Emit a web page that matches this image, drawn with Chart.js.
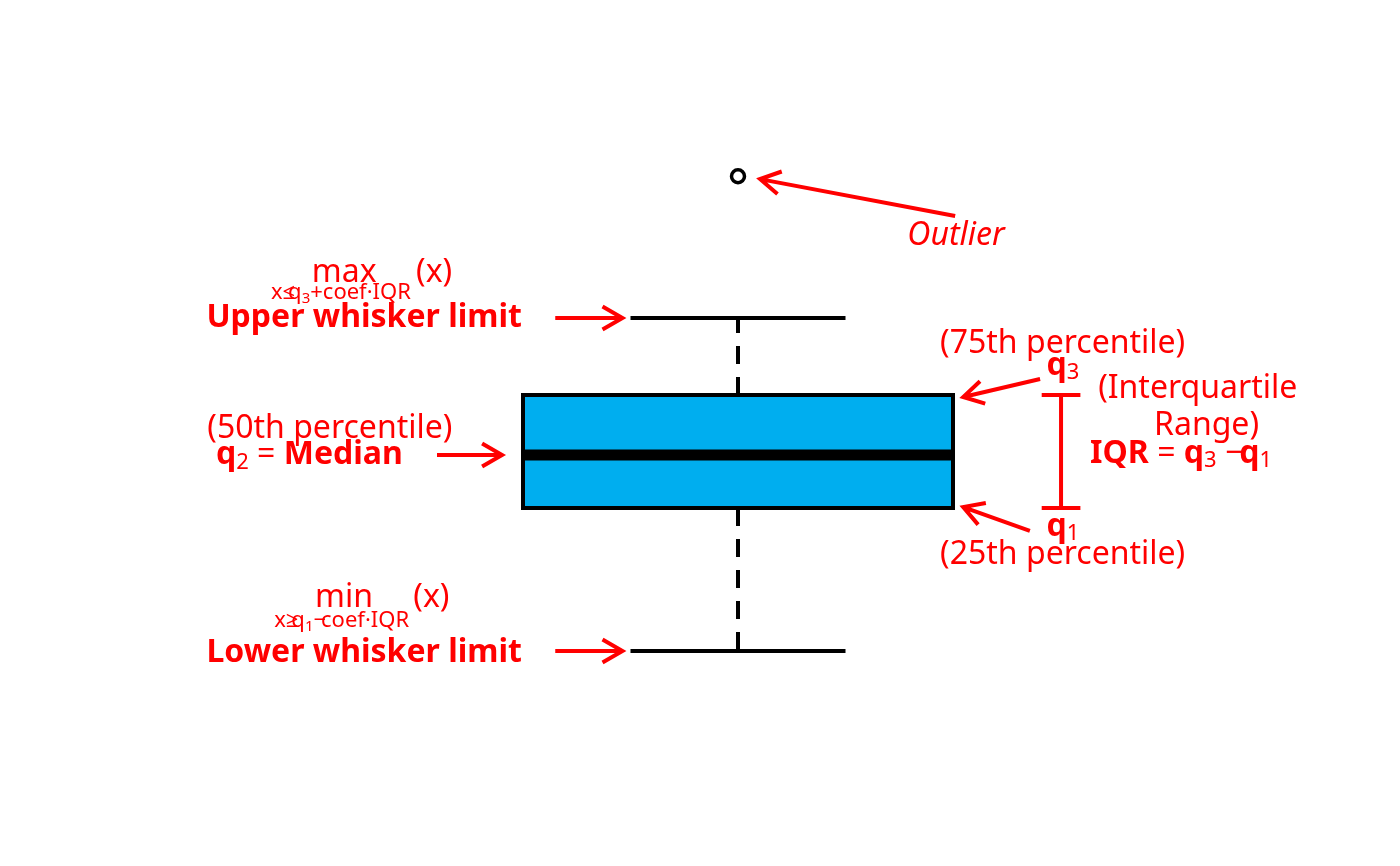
<!DOCTYPE html>
<html><head><meta charset="utf-8">
<script src="https://cdn.jsdelivr.net/npm/chart.js@4.4.1/dist/chart.umd.min.js"></script>
<style>html,body{margin:0;padding:0;background:#fff}#wrap{width:1400px;height:866px;position:relative}</style>
</head><body><div id="wrap"><canvas id="c"></canvas></div>
<script>
// ---- data ----
const statNames = ['lower whisker', 'q1', 'median', 'q3', 'upper whisker'];
const boxStats = [1.0, 6.0, 7.85, 9.95, 12.64];
const outlierValues = [17.6];
const boxPositions = [1];

// ---- geometry / style constants ----
const HW = 0.4, CAP = 0.2;
const RED = '#FF0000', BLUE = '#00AEEF', FONT = '"Noto Sans", "Open Sans", sans-serif';
const [lo, q1, med, q3, up] = boxStats;
const cx = boxPositions[0];

const lineBase = {type: 'line', pointRadius: 0, fill: false, borderColor: '#000', borderWidth: 4, borderCapStyle: 'butt', tension: 0};

const datasets = [
  Object.assign({}, lineBase, {label: 'box fill', data: [{x: cx - HW, y: q3}, {x: cx + HW, y: q3}], fill: {target: {value: q1}}, backgroundColor: BLUE, borderWidth: 0, order: 6}),
  Object.assign({}, lineBase, {label: 'upper whisker', data: [{x: cx, y: q3}, {x: cx, y: up}], borderDash: [18, 13], order: 5}),
  Object.assign({}, lineBase, {label: 'lower whisker', data: [{x: cx, y: q1}, {x: cx, y: lo}], borderDash: [18, 13], order: 5}),
  Object.assign({}, lineBase, {label: 'upper cap', data: [{x: cx - CAP, y: up}, {x: cx + CAP, y: up}], order: 4}),
  Object.assign({}, lineBase, {label: 'lower cap', data: [{x: cx - CAP, y: lo}, {x: cx + CAP, y: lo}], order: 4}),
  Object.assign({}, lineBase, {label: 'median', data: [{x: cx - HW, y: med}, {x: cx + HW, y: med}], borderWidth: 11, order: 3}),
  Object.assign({}, lineBase, {label: 'box', data: [{x: cx - HW, y: q1}, {x: cx + HW, y: q1}, {x: cx + HW, y: q3}, {x: cx - HW, y: q3}, {x: cx - HW, y: q1}], borderJoinStyle: 'miter', borderCapStyle: 'square', order: 2}),
  {type: 'scatter', label: 'outliers', data: outlierValues.map(v => ({x: cx, y: v})), pointRadius: 6.5, borderWidth: 3.5, pointBorderColor: '#000', pointBackgroundColor: '#fff', order: 1}
];

// ---- annotations (data coordinates) ----
const M = 32, SUB = 22, SS = 15, B = 'bold';
function f(s) { return (s.st || '') + ' ' + (s.w || 'normal') + ' ' + (s.s || M) + 'px ' + FONT; }
function rich(ctx, x, y, segs, align) {
  const ws = segs.map(s => { ctx.font = f(s); return ctx.measureText(s.t).width + (s.k || 0); });
  const tot = ws.reduce((a, b) => a + b, 0);
  let px = align === 'right' ? x - tot : align === 'center' ? x - tot / 2 : x;
  segs.forEach((s, i) => { ctx.font = f(s); ctx.fillText(s.t, px, y + (s.dy || 0)); px += ws[i]; });
}
function arrow(ctx, x1, y1, x2, y2) {
  const a = Math.atan2(y2 - y1, x2 - x1), L = 23, h = Math.PI / 6;
  ctx.beginPath(); ctx.moveTo(x1, y1); ctx.lineTo(x2, y2);
  ctx.moveTo(x2 - L * Math.cos(a - h), y2 - L * Math.sin(a - h)); ctx.lineTo(x2, y2);
  ctx.lineTo(x2 - L * Math.cos(a + h), y2 - L * Math.sin(a + h));
  ctx.stroke();
}
const texts = [
  {x: 0.598, y: 12.33, a: 'right', segs: [{t: 'Upper whisker limit', w: B}]},
  {x: 0.207, y: 13.90, segs: [{t: 'max'}]},
  {x: 0.401, y: 13.90, segs: [{t: '(x)'}]},
  {x: 0.131, y: 13.31, segs: [{t: 'x\u2264', s: SUB, k: -7}, {t: 'q', s: SUB}, {t: '3', s: SS, dy: 4}, {t: '+coef\u00b7IQR', s: SUB}]},
  {x: 0.598, y: 0.60, a: 'right', segs: [{t: 'Lower whisker limit', w: B}]},
  {x: 0.213, y: 2.55, segs: [{t: 'min'}]},
  {x: 0.396, y: 2.55, segs: [{t: '(x)'}]},
  {x: 0.137, y: 1.85, segs: [{t: 'x\u2265', s: SUB, k: -7}, {t: 'q', s: SUB}, {t: '1', s: SS, dy: 4}, {t: '\u2212', s: SUB, k: -5}, {t: 'coef\u00b7IQR', s: SUB}]},
  {x: 0.0127, y: 8.44, segs: [{t: '(50th percentile)'}]},
  {x: 0.0288, y: 7.54, segs: [{t: 'q', w: B}, {t: '2', s: SUB, dy: 5}, {t: ' = '}, {t: 'Median', w: B}]},
  {x: 1.315, y: 15.20, segs: [{t: 'Outlier', st: 'italic'}]},
  {x: 1.376, y: 11.42, segs: [{t: '(75th percentile)'}]},
  {x: 1.574, y: 10.65, segs: [{t: 'q', w: B}, {t: '3', s: SUB, dy: 4}]},
  {x: 1.670, y: 9.85, segs: [{t: '(Interquartile'}]},
  {x: 1.774, y: 8.55, segs: [{t: 'Range)'}]},
  {x: 1.655, y: 7.57, segs: [{t: 'IQR', w: B}, {t: ' = '}, {t: 'q', w: B}, {t: '3', s: SUB, dy: 4}, {t: ' \u2212', k: -4}, {t: 'q', w: B}, {t: '1', s: SUB, dy: 4}]},
  {x: 1.574, y: 5.03, segs: [{t: 'q', w: B}, {t: '1', s: SUB, dy: 4}]},
  {x: 1.376, y: 4.04, segs: [{t: '(25th percentile)'}]}
];
const arrows = [
  [0.66, up, 0.785, up], [0.66, lo, 0.785, lo], [0.44, med, 0.561, med],
  [1.404, 16.21, 1.041, 17.50], [1.562, 10.51, 1.419, 9.88], [1.543, 5.20, 1.419, 6.03]
];
const iqrBar = {x: 1.601, cap: 0.036};

const annot = {
  id: 'annot',
  afterDatasetsDraw(chart) {
    const {ctx, scales: {x, y}} = chart;
    ctx.save();
    ctx.fillStyle = RED; ctx.strokeStyle = RED; ctx.lineWidth = 4; ctx.lineCap = 'butt'; ctx.lineJoin = 'miter';
    ctx.textBaseline = 'alphabetic';
    texts.forEach(t => rich(ctx, x.getPixelForValue(t.x), y.getPixelForValue(t.y), t.segs, t.a));
    arrows.forEach(a => arrow(ctx, x.getPixelForValue(a[0]), y.getPixelForValue(a[1]), x.getPixelForValue(a[2]), y.getPixelForValue(a[3])));
    const bx = x.getPixelForValue(iqrBar.x), c0 = x.getPixelForValue(iqrBar.x - iqrBar.cap), c1 = x.getPixelForValue(iqrBar.x + iqrBar.cap);
    const yt = y.getPixelForValue(q3), yb = y.getPixelForValue(q1);
    ctx.beginPath(); ctx.moveTo(bx, yt); ctx.lineTo(bx, yb);
    ctx.moveTo(c0, yt); ctx.lineTo(c1, yt); ctx.moveTo(c0, yb); ctx.lineTo(c1, yb); ctx.stroke();
    ctx.restore();
  }
};

new Chart(document.getElementById('c'), {
  type: 'line',
  data: {datasets},
  options: {
    responsive: true, maintainAspectRatio: false, animation: false, devicePixelRatio: 1, events: [],
    layout: {padding: 0, autoPadding: false},
    plugins: {legend: {display: false}, tooltip: {enabled: false}},
    scales: {
      x: {type: 'linear', min: -0.373, max: 2.2316, display: false},
      y: {type: 'linear', min: -6.517, max: 23.762, display: false}
    }
  },
  plugins: [annot]
});
</script></body></html>
